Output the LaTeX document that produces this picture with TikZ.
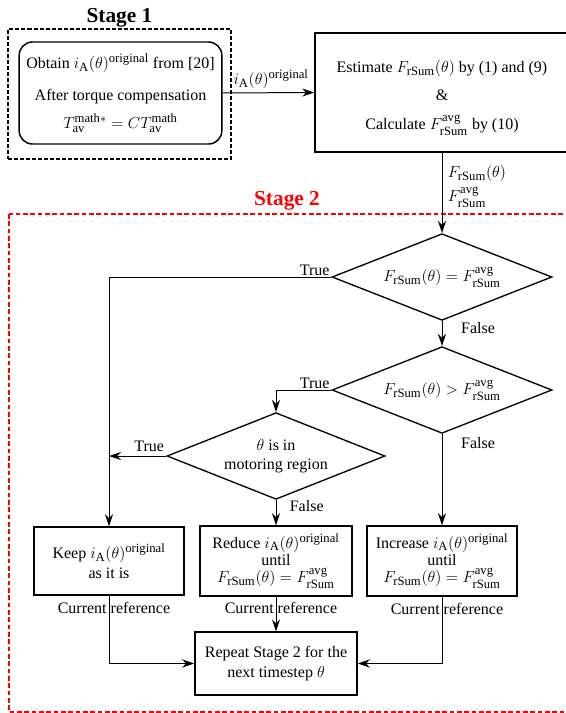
\documentclass[tikz,border=0pt]{standalone}
\usepackage{amsmath,amssymb}
\usepackage{fontspec}
\setmainfont{Liberation Serif}
\usepackage{tikz}
\usetikzlibrary{arrows.meta,positioning,shapes.geometric}
\DeclareMathSizes{12}{12.5}{9.5}{7.5}

\newcommand{\Frs}{F_{\mathrm{rSum}}}
\newcommand{\Favg}{F_{\mathrm{rSum}}^{\mathrm{avg}}}
\newcommand{\iorig}{i_{\mathrm{A}}(\theta)^{\mathrm{original}}}

\begin{document}
\begin{tikzpicture}[
  x=0.75pt, y=-0.75pt,
  font=\fontsize{12}{14}\selectfont,
  proc/.style={draw, line width=1.1pt, align=center, inner sep=1pt},
  tight/.style={font=\fontsize{12}{13}\selectfont},
  decision/.style={draw, diamond, aspect=2.5, line width=1pt, inner sep=0pt, align=center, minimum width=165pt, minimum height=65pt},
  stagelbl/.style={font=\fontsize{16}{18}\selectfont\bfseries, inner sep=0.5pt},
  lbl/.style={inner sep=1pt},
  arrow/.style={-{Stealth[length=9pt, width=6pt]}, line width=0.75pt}
]
\clip (0,0) rectangle (566,713);

% Stage 1
\node[draw, dash pattern=on 3pt off 1.5pt, line width=1.1pt, minimum width=167pt, minimum height=97.5pt] (stage1) at (119.5,94) {};
\node[stagelbl, above=0pt of stage1] (stage1lbl) {Stage 1};
\node[proc, rounded corners=10pt, minimum width=152pt, minimum height=76.5pt] (obtain) at (120.5,93)
  {Obtain $\iorig$ from [20]\\[10.5pt] After torque compensation\\[6.5pt] $T_{\mathrm{av}}^{\mathrm{math}*} = CT_{\mathrm{av}}^{\mathrm{math}}$};

\node[proc, minimum width=190.5pt, minimum height=89pt] (estimate) at (442,92.5)
  {\rule{0pt}{17pt}Estimate $\Frs(\theta)$ by (1) and (9)\\[7pt] \&\\[8pt] Calculate $\Favg$ by (10)};

% Stage 2
\draw[red, dash pattern=on 3.5pt off 2pt, line width=0.9pt] (9,214) rectangle (580,712);
\node[stagelbl, text=red] (stage2lbl) at (287,201) {Stage 2};

\node[decision] (equal) at (442,277) {$\Frs(\theta) = \Favg$};
\node[decision] (greater) at (442,390) {$\Frs(\theta) > \Favg$};
\node[decision, minimum width=163.5pt] (motor) at (276,456) {$\theta$ is in\\motoring region};

\node[proc, minimum width=112.5pt, minimum height=51pt] (keep) at (109,561) {Keep $\iorig$\\[1pt] as it is};
\node[proc, tight, minimum width=114pt, minimum height=52.5pt] (reduce) at (276,561) {Reduce $\iorig$\\until\\$\Frs(\theta) = \Favg$};
\node[proc, tight, minimum width=112.5pt, minimum height=52.5pt] (increase) at (442,561) {Increase $\iorig$\\until\\$\Frs(\theta) = \Favg$};
\node[proc, minimum width=121.5pt, minimum height=47pt] (repeat) at (276,663.5) {Repeat Stage 2 for the\\[1pt] next timestep $\theta$};

% connectors
\draw[arrow] (obtain.east) -- node[above, lbl, yshift=2pt, xshift=2pt]{$\iorig$} (estimate.west);
\draw[arrow] (estimate.south) -- node[pos=0.42, right, lbl, align=left, xshift=3pt]{$\Frs(\theta)$\\[3pt]$\Favg$} (equal.north);

\draw[arrow] (equal.south) -- node[pos=0.3, right=13pt, lbl]{False} (greater.north);
\draw[arrow] (equal.west) -| node[pos=0, above left, lbl]{True} (keep.north);

\draw[arrow] (greater.south) -- node[pos=0.1, right=13pt, lbl]{False} (increase.north);
\draw[arrow] (greater.west) -| node[pos=0, above left, lbl]{True} (motor.north);

\draw[arrow] (motor.west) -- node[pos=0.3, above, lbl, yshift=2pt]{True} (motor.west -| keep.north);
\draw[arrow] (motor.south) -- node[pos=0.25, right=9pt, lbl]{False} (reduce.north);

\draw[arrow] (keep.south) |- node[pos=0.09, lbl, xshift=3.75pt]{Current reference} (repeat.west);
\draw[arrow] (reduce.south) -- node[pos=0.33, lbl, xshift=3.75pt]{Current reference} (repeat.north);
\draw[arrow] (increase.south) |- node[pos=0.09, lbl, xshift=3.75pt]{Current reference} (repeat.east);
\end{tikzpicture}
\end{document}
